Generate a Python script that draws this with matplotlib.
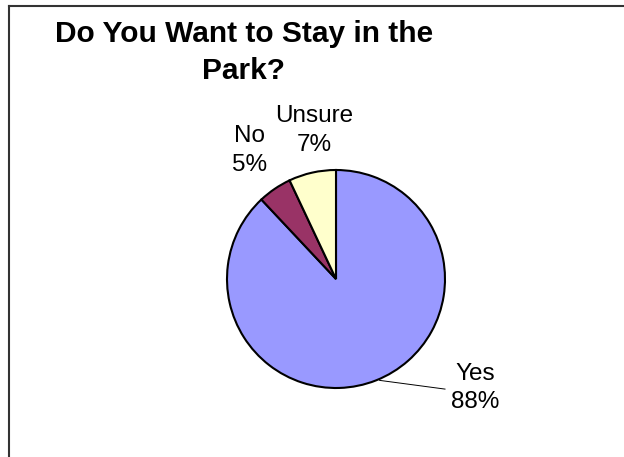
import matplotlib
matplotlib.use('Agg')
import matplotlib.pyplot as plt
from matplotlib.lines import Line2D

plt.rcParams['font.family'] = ['Liberation Sans', 'DejaVu Sans']

# Данные
labels = ['Yes', 'No', 'Unsure']
values = [88, 5, 7]
colors = ['#9999FF', '#993366', '#FFFFCC']
title = 'Do You Want to Stay in the\nPark?'

W, H = 624, 457
fig = plt.figure(figsize=(W / 100, H / 100), dpi=100)

# рамка (видны только верх и левый край)
fig.add_artist(Line2D([9 / W, 9 / W], [0, 1 - 6 / H], transform=fig.transFigure,
                      color='#333333', lw=1.5))
fig.add_artist(Line2D([9 / W, 1], [1 - 6 / H, 1 - 6 / H], transform=fig.transFigure,
                      color='#333333', lw=1.5))

# круг: центр (336, 279), радиус 109 px
cx, cy, r = 336, 279, 109
ax = fig.add_axes([(cx - r) / W, (H - cy - r) / H, 2 * r / W, 2 * r / H])
ax.pie(values, colors=colors, startangle=90, counterclock=False,
       wedgeprops=dict(edgecolor='black', linewidth=1.5))
ax.set_xlim(-1, 1)
ax.set_ylim(-1, 1)
ax.set_aspect('auto')
ax.axis('off')

# подписи
pos = [(1.275, -1.0), (-0.79, 1.18), (-0.20, 1.36)]
for lab, v, (x, y) in zip(labels, values, pos):
    ax.text(x, y, f'{lab}\n{v}%', ha='center', va='center', fontsize=17.5,
            linespacing=1.4, clip_on=False)

# выноска для Yes
ax.plot([0.40, 1.0], [-0.93, -1.01], color='black', lw=0.7, clip_on=False)

fig.text(244 / W, 1 - 20 / H, title, ha='center', va='top', fontsize=21.5,
         fontweight='bold', linespacing=1.4)

fig.savefig('out.png', dpi=100)
